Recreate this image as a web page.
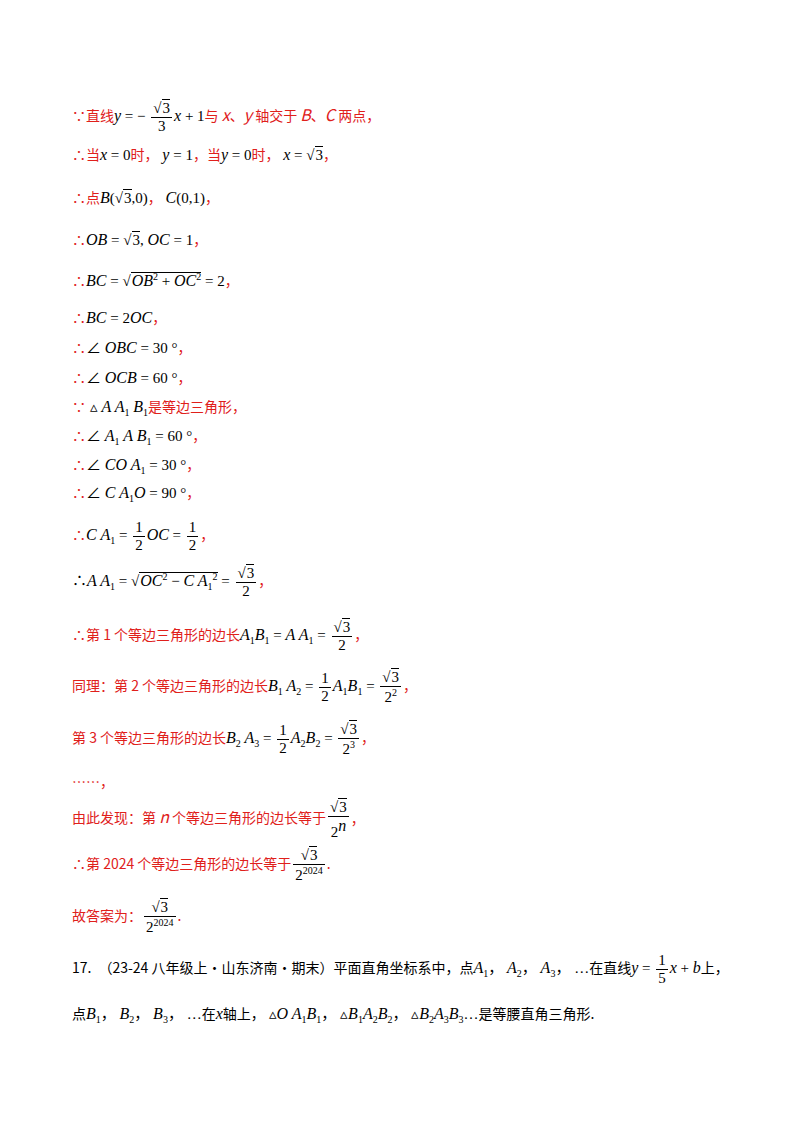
<!DOCTYPE html>
<html><head><meta charset="utf-8">
<script src="https://cdn.jsdelivr.net/npm/chart.js@4"></script>
<style>
body{margin:0;width:800px;height:1132px;background:#fff;font-family:"Liberation Serif","Noto Sans CJK SC",serif;font-size:15px;color:#000}
.l{position:absolute;left:72px;white-space:nowrap;line-height:1}
.r{color:#e0201b;font-family:"Noto Sans CJK SC",sans-serif;font-size:14px}
i{font-style:italic;font-size:16px}
.f{display:inline-block;vertical-align:middle;text-align:center;margin:0 2px}
.f>span{display:block;padding:0 2px;line-height:1.15}
.f>span:first-child{border-bottom:1px solid #000}
.sq{border-top:1px solid #000;padding-left:1px}
sub,sup{font-size:10px}
</style></head><body>
<script>
// the page is a text page (worked solution); there is no data series to chart
const sq = x => `√<span class="sq">${x}</span>`;
const fr = (n, d) => `<span class="f"><span>${n}</span><span>${d}</span></span>`;
const lines = [
  [118, `<span class="r">∵直线</span><i>y</i> = − ${fr(sq(3), 3)}<i>x</i> + 1<span class="r">与 <i>x</i>、<i>y</i> 轴交于 <i>B</i>、<i>C</i> 两点，</span>`],
  [155, `<span class="r">∴当</span><i>x</i> = 0<span class="r">时，</span> <i>y</i> = 1<span class="r">，当</span><i>y</i> = 0<span class="r">时，</span> <i>x</i> = ${sq(3)}<span class="r">，</span>`],
  [198, `<span class="r">∴点</span><i>B</i>(${sq(3)},0)<span class="r">，</span> <i>C</i>(0,1)<span class="r">，</span>`],
  [240, `<span class="r">∴</span><i>OB</i> = ${sq(3)}, <i>OC</i> = 1<span class="r">，</span>`],
  [280, `<span class="r">∴</span><i>BC</i> = √<span class="sq"><i>OB</i><sup>2</sup> + <i>OC</i><sup>2</sup></span> = 2<span class="r">，</span>`],
  [318, `<span class="r">∴</span><i>BC</i> = 2<i>OC</i><span class="r">，</span>`],
  [348, `<span class="r">∴</span>∠ <i>OBC</i> = 30 °<span class="r">，</span>`],
  [378, `<span class="r">∴</span>∠ <i>OCB</i> = 60 °<span class="r">，</span>`],
  [408, `<span class="r">∵</span> ▵ <i>A A</i><sub>1</sub> <i>B</i><sub>1</sub><span class="r">是等边三角形，</span>`],
  [437, `<span class="r">∴</span>∠ <i>A</i><sub>1</sub> <i>A B</i><sub>1</sub> = 60 °<span class="r">，</span>`],
  [466, `<span class="r">∴</span>∠ <i>CO A</i><sub>1</sub> = 30 °<span class="r">，</span>`],
  [494, `<span class="r">∴</span>∠ <i>C A</i><sub>1</sub><i>O</i> = 90 °<span class="r">，</span>`],
  [537, `<span class="r">∴</span><i>C A</i><sub>1</sub> = ${fr(1,2)}<i>OC</i> = ${fr(1,2)}<span class="r">，</span>`],
  [583, `∴<i>A A</i><sub>1</sub> = √<span class="sq"><i>OC</i><sup>2</sup> − <i>C A</i><sub>1</sub><sup>2</sup></span> = ${fr(sq(3),2)}<span class="r">，</span>`],
  [637, `<span class="r">∴第 1 个等边三角形的边长</span><i>A</i><sub>1</sub><i>B</i><sub>1</sub> = <i>A A</i><sub>1</sub> = ${fr(sq(3),2)}<span class="r">，</span>`],
  [688, `<span class="r">同理：第 2 个等边三角形的边长</span><i>B</i><sub>1</sub> <i>A</i><sub>2</sub> = ${fr(1,2)}<i>A</i><sub>1</sub><i>B</i><sub>1</sub> = ${fr(sq(3),'2<sup>2</sup>')}<span class="r">，</span>`],
  [740, `<span class="r">第 3 个等边三角形的边长</span><i>B</i><sub>2</sub> <i>A</i><sub>3</sub> = ${fr(1,2)}<i>A</i><sub>2</sub><i>B</i><sub>2</sub> = ${fr(sq(3),'2<sup>3</sup>')}<span class="r">，</span>`],
  [782, `<span class="r">……，</span>`],
  [820, `<span class="r">由此发现：第 <i>n</i> 个等边三角形的边长等于</span>${fr(sq(3),'2<sup><i>n</i></sup>')}<span class="r">，</span>`],
  [866, `<span class="r">∴第 2024 个等边三角形的边长等于</span>${fr(sq(3),'2<sup>2024</sup>')}<span class="r">.</span>`],
  [918, `<span class="r">故答案为：</span>${fr(sq(3),'2<sup>2024</sup>')}<span class="r">.</span>`],
  [970, `<span style="font-family:'Noto Sans CJK SC';font-size:14px">17.　（23-24 八年级上·山东济南·期末）平面直角坐标系中，点</span><i>A</i><sub>1</sub>， <i>A</i><sub>2</sub>， <i>A</i><sub>3</sub>， …<span style="font-family:'Noto Sans CJK SC';font-size:14px">在直线</span><i>y</i> = ${fr(1,5)}<i>x</i> + <i>b</i><span style="font-family:'Noto Sans CJK SC';font-size:14px">上，</span>`],
  [1015, `<span style="font-family:'Noto Sans CJK SC';font-size:14px">点</span><i>B</i><sub>1</sub>， <i>B</i><sub>2</sub>， <i>B</i><sub>3</sub>， …<span style="font-family:'Noto Sans CJK SC';font-size:14px">在</span><i>x</i><span style="font-family:'Noto Sans CJK SC';font-size:14px">轴上，</span> ▵<i>O A</i><sub>1</sub><i>B</i><sub>1</sub>， ▵<i>B</i><sub>1</sub><i>A</i><sub>2</sub><i>B</i><sub>2</sub>， ▵<i>B</i><sub>2</sub><i>A</i><sub>3</sub><i>B</i><sub>3</sub>…<span style="font-family:'Noto Sans CJK SC';font-size:14px">是等腰直角三角形.</span>`]
];
lines.forEach(([y, html]) => {
  const d = document.createElement('div');
  d.className = 'l';
  d.innerHTML = html;
  document.body.appendChild(d);
  d.style.top = (y - d.offsetHeight / 2) + 'px';
});
</script>
</body></html>
